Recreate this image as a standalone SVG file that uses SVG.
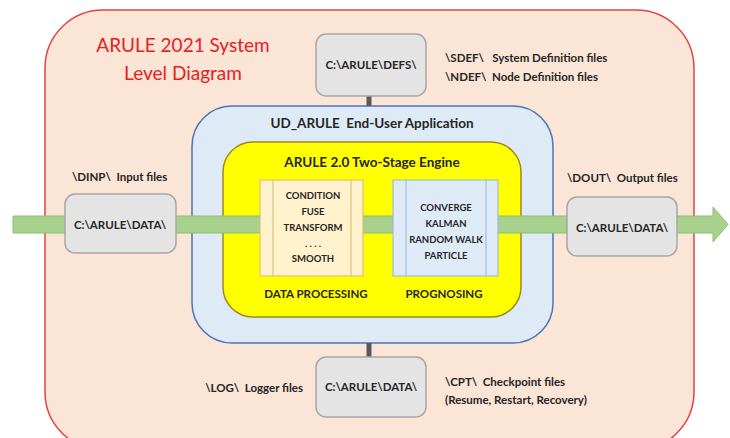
<svg xmlns="http://www.w3.org/2000/svg" width="730" height="438" viewBox="0 0 730 438">
<style>
text{font-family:Lato,"Liberation Sans",sans-serif;font-weight:bold;fill:#262626;white-space:pre;}
.title{font-weight:normal;fill:#E8201E;font-size:19px;}
.box{fill:#E4E4E4;stroke:#A6A6A6;stroke-width:1.5;}
.boxt{font-size:11.5px;text-anchor:middle;}
.lbl{font-size:11.5px;}
.pt{font-size:9.5px;text-anchor:middle;}
.hd{font-size:13.5px;text-anchor:middle;}
.conn{stroke:#595959;stroke-width:5;fill:none;}
</style>
<g id="system">
<rect x="45" y="10" width="649" height="440" rx="58" fill="#FBE5D6" stroke="#E04545" stroke-width="1.5"/>
<text class="title" x="183" y="52" text-anchor="middle">ARULE 2021 System</text>
<text class="title" x="183" y="80" text-anchor="middle">Level Diagram</text>
</g>
<g id="app">
<rect x="192" y="106" width="361" height="237" rx="40" fill="#DEEBF7" stroke="#4F73B8" stroke-width="1.5"/>
<text class="hd" x="372" y="128" xml:space="preserve">UD_ARULE  End-User Application</text>
</g>
<g id="engine">
<rect x="223" y="142" width="298" height="175" rx="30" fill="#FFFF00" stroke="#9C8A1E" stroke-width="1.5"/>
<text class="hd" x="372" y="167">ARULE 2.0 Two-Stage Engine</text>
</g>
<g id="connectors">
<path d="M13 216 H713 V207 L728 224.5 L713 242 V233 H13 Z" fill="#A9D18E" stroke="#8CC06A" stroke-width="1"/>
<line class="conn" x1="369" y1="96" x2="369" y2="106"/>
<line class="conn" x1="369" y1="343" x2="369" y2="357"/>
</g>
<g id="data-processing">
<rect x="260" y="180" width="103" height="96" fill="#FFF2CC" stroke="#D9B86A" stroke-width="1"/>
<line x1="273" y1="180" x2="273" y2="276" stroke="#D9B86A" stroke-width="1"/>
<line x1="351" y1="180" x2="351" y2="276" stroke="#D9B86A" stroke-width="1"/>
<text class="pt" x="313" y="199">CONDITION</text>
<text class="pt" x="313" y="215">FUSE</text>
<text class="pt" x="313" y="231">TRANSFORM</text>
<text class="pt" x="313" y="247">. . . .</text>
<text class="pt" x="313" y="262">SMOOTH</text>
<text class="lbl" x="316" y="298" text-anchor="middle">DATA PROCESSING</text>
</g>
<g id="prognosing">
<rect x="393" y="180" width="105" height="96" fill="#DEEBF7" stroke="#8FB4E0" stroke-width="1"/>
<line x1="406" y1="180" x2="406" y2="276" stroke="#8FB4E0" stroke-width="1"/>
<line x1="486" y1="180" x2="486" y2="276" stroke="#8FB4E0" stroke-width="1"/>
<text class="pt" x="446" y="211">CONVERGE</text>
<text class="pt" x="446" y="227">KALMAN</text>
<text class="pt" x="446" y="243">RANDOM WALK</text>
<text class="pt" x="446" y="259">PARTICLE</text>
<text class="lbl" x="444" y="298" text-anchor="middle">PROGNOSING</text>
</g>
<g id="defs">
<rect class="box" x="316" y="34" width="110" height="62" rx="10"/>
<text class="boxt" x="371" y="69">C:\ARULE\DEFS\</text>
<text class="lbl" x="445" y="62" xml:space="preserve">\SDEF\   System Definition files</text>
<text class="lbl" x="445" y="81" xml:space="preserve">\NDEF\  Node Definition files</text>
</g>
<g id="input">
<rect class="box" x="65" y="194" width="111" height="59" rx="10"/>
<text class="boxt" x="120" y="229">C:\ARULE\DATA\</text>
<text class="lbl" x="72" y="181" xml:space="preserve">\DINP\  Input files</text>
</g>
<g id="output">
<rect class="box" x="567" y="197" width="110" height="59" rx="10"/>
<text class="boxt" x="622" y="232">C:\ARULE\DATA\</text>
<text class="lbl" x="567" y="182" xml:space="preserve">\DOUT\  Output files</text>
</g>
<g id="checkpoint">
<rect class="box" x="316" y="357" width="110" height="60" rx="10"/>
<text class="boxt" x="371" y="391">C:\ARULE\DATA\</text>
<text class="lbl" x="303" y="392" text-anchor="end" xml:space="preserve">\LOG\  Logger files</text>
<text class="lbl" x="445" y="386" xml:space="preserve">\CPT\  Checkpoint files</text>
<text class="lbl" x="445" y="404">(Resume, Restart, Recovery)</text>
</g>
</svg>
